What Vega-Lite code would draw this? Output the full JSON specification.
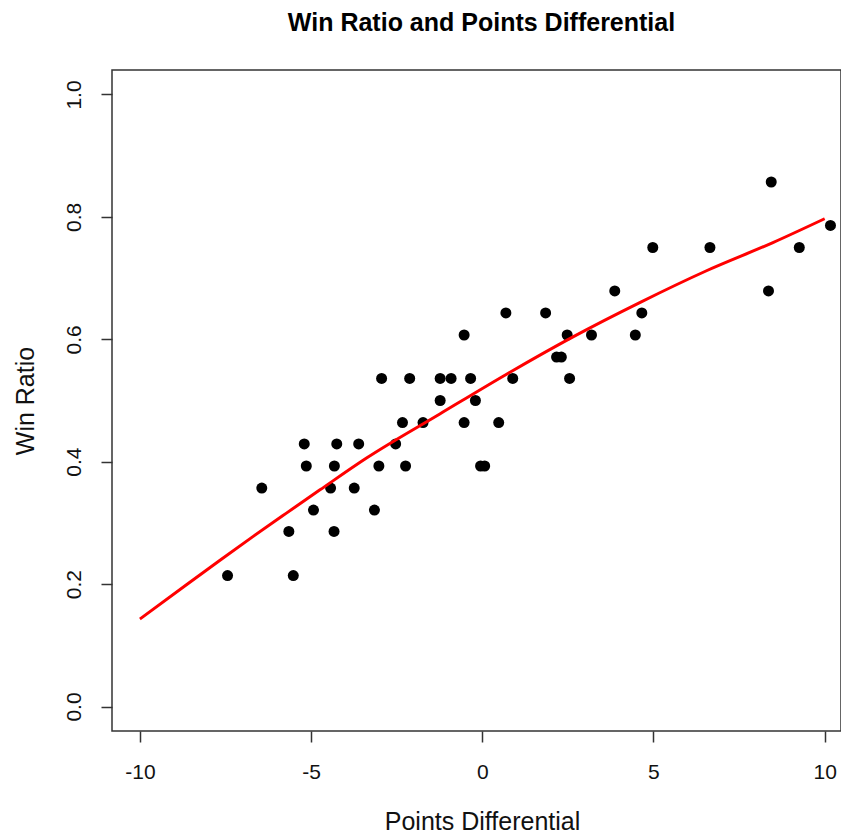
{
  "$schema": "https://vega.github.io/schema/vega-lite/v6.json",
  "width": 729,
  "height": 661,
  "autosize": {"type": "none"},
  "padding": {"left": 112, "top": 70, "right": 0, "bottom": 103},
  "background": "white",
  "title": {
    "text": "Win Ratio and Points Differential",
    "font": "Liberation Sans",
    "fontSize": 25,
    "fontWeight": "bold",
    "color": "black",
    "anchor": "middle",
    "frame": "group",
    "baseline": "bottom",
    "offset": 35,
    "dx": 5,
    "dy": 26
  },
  "config": {
    "view": {"stroke": "#333", "strokeWidth": 1.5},
    "axis": {
      "grid": false,
      "domain": false,
      "ticks": true,
      "tickColor": "#333",
      "tickWidth": 1.5,
      "tickSize": 11,
      "labelFont": "Liberation Sans",
      "labelFontSize": 21,
      "labelColor": "#111",
      "titleFont": "Liberation Sans",
      "titleFontSize": 25,
      "titleFontWeight": "normal",
      "titleColor": "#111"
    }
  },
  "datasets": {
    "teams": [
      {"diff": -2.33, "ratio": 0.464},
      {"diff": -1.73, "ratio": 0.464},
      {"diff": -5.2, "ratio": 0.429},
      {"diff": -4.25, "ratio": 0.429},
      {"diff": -3.61, "ratio": 0.429},
      {"diff": -2.53, "ratio": 0.429},
      {"diff": -5.14, "ratio": 0.393},
      {"diff": -4.32, "ratio": 0.393},
      {"diff": -3.02, "ratio": 0.393},
      {"diff": -2.24, "ratio": 0.393},
      {"diff": -6.44, "ratio": 0.357},
      {"diff": -4.43, "ratio": 0.357},
      {"diff": -3.74, "ratio": 0.357},
      {"diff": -4.93, "ratio": 0.321},
      {"diff": -3.15, "ratio": 0.321},
      {"diff": -5.65, "ratio": 0.286},
      {"diff": -4.33, "ratio": 0.286},
      {"diff": -7.44, "ratio": 0.214},
      {"diff": -5.52, "ratio": 0.214},
      {"diff": 0.69, "ratio": 0.643},
      {"diff": -0.53, "ratio": 0.607},
      {"diff": -2.94, "ratio": 0.536},
      {"diff": -2.12, "ratio": 0.536},
      {"diff": -1.23, "ratio": 0.536},
      {"diff": -0.91, "ratio": 0.536},
      {"diff": -0.34, "ratio": 0.536},
      {"diff": 0.89, "ratio": 0.536},
      {"diff": -1.23, "ratio": 0.5},
      {"diff": -0.2, "ratio": 0.5},
      {"diff": -0.53, "ratio": 0.464},
      {"diff": 0.48, "ratio": 0.464},
      {"diff": -0.05, "ratio": 0.393},
      {"diff": 0.07, "ratio": 0.393},
      {"diff": 1.85, "ratio": 0.643},
      {"diff": 2.48, "ratio": 0.607},
      {"diff": 3.19, "ratio": 0.607},
      {"diff": 4.47, "ratio": 0.607},
      {"diff": 4.66, "ratio": 0.643},
      {"diff": 2.17, "ratio": 0.571},
      {"diff": 2.31, "ratio": 0.571},
      {"diff": 2.55, "ratio": 0.536},
      {"diff": 3.87, "ratio": 0.679},
      {"diff": 8.44, "ratio": 0.857},
      {"diff": 10.17, "ratio": 0.786},
      {"diff": 4.98, "ratio": 0.75},
      {"diff": 6.65, "ratio": 0.75},
      {"diff": 9.26, "ratio": 0.75},
      {"diff": 8.36, "ratio": 0.679}
    ],
    "fit": [
      {"diff": -10, "ratio": 0.143},
      {"diff": -8.64, "ratio": 0.199},
      {"diff": -7.66, "ratio": 0.239},
      {"diff": -6.69, "ratio": 0.278},
      {"diff": -5.72, "ratio": 0.316},
      {"diff": -4.74, "ratio": 0.354},
      {"diff": -3.38, "ratio": 0.406},
      {"diff": -1.24, "ratio": 0.478},
      {"diff": 0.71, "ratio": 0.543},
      {"diff": 2.65, "ratio": 0.604},
      {"diff": 4.6, "ratio": 0.66},
      {"diff": 6.55, "ratio": 0.712},
      {"diff": 8.49, "ratio": 0.758},
      {"diff": 10, "ratio": 0.797}
    ]
  },
  "layer": [
    {
      "data": {"name": "teams"},
      "mark": {"type": "point", "shape": "circle", "filled": true, "size": 121, "color": "black", "opacity": 1},
      "encoding": {
        "x": {
          "field": "diff",
          "type": "quantitative",
          "scale": {"domain": [-10.815, 10.478], "nice": false, "zero": false},
          "axis": {
            "title": "Points Differential",
            "values": [-10, -5, 0, 5, 10],
            "labelExpr": "'' + datum.value",
            "labelBaseline": "alphabetic",
            "labelPadding": 36,
            "labelFlush": false,
            "labelOverlap": false,
            "titleBaseline": "alphabetic",
            "titleAlign": "center",
            "titleX": 370,
            "titleY": 98
          }
        },
        "y": {
          "field": "ratio",
          "type": "quantitative",
          "scale": {"domain": [-0.04, 1.04], "nice": false, "zero": false},
          "axis": {
            "title": "Win Ratio",
            "values": [0, 0.2, 0.4, 0.6, 0.8, 1.0],
            "labelExpr": "format(datum.value, '.1f')",
            "labelAngle": 270,
            "labelAlign": "center",
            "labelBaseline": "alphabetic",
            "labelPadding": 21,
            "labelFlush": false,
            "labelOverlap": false,
            "titleAngle": 270,
            "titleBaseline": "alphabetic",
            "titleAlign": "center",
            "titleX": -79,
            "titleY": 330.5
          }
        }
      }
    },
    {
      "data": {"name": "fit"},
      "mark": {"type": "line", "color": "#FF0000", "strokeWidth": 3, "interpolate": "monotone"},
      "encoding": {
        "x": {"field": "diff", "type": "quantitative"},
        "y": {"field": "ratio", "type": "quantitative"}
      }
    }
  ]
}
